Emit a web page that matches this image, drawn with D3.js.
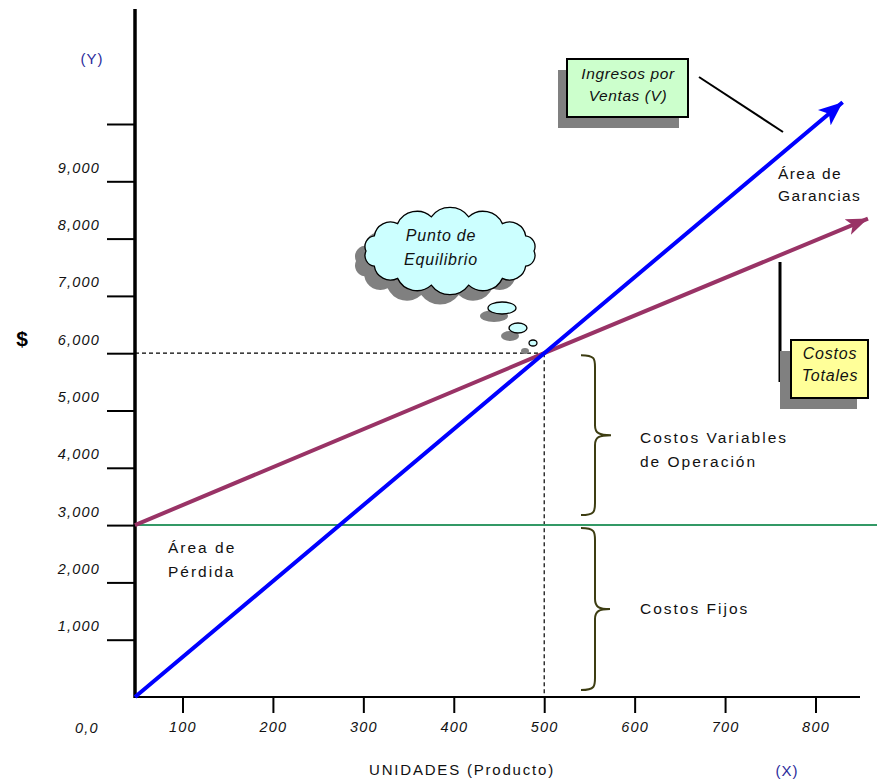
<!DOCTYPE html>
<html>
<head>
<meta charset="utf-8">
<script src="https://cdnjs.cloudflare.com/ajax/libs/d3/7.8.5/d3.min.js"></script>
<style>
  body { margin: 0; background: #fff; }
  text { font-family: "Liberation Sans", Arial, sans-serif; }
</style>
</head>
<body>
<div id="chart"></div>
<script>
// Punto de equilibrio - grafica de costos / ingresos

// Pt. 0 - DATA
const xTicks = [100, 200, 300, 400, 500, 600, 700, 800];
const yTicks = [1000, 2000, 3000, 4000, 5000, 6000, 7000, 8000, 9000, 10000];
const yTickLabels = ["1,000", "2,000", "3,000", "4,000", "5,000", "6,000", "7,000", "8,000", "9,000", ""];

// Ingresos por Ventas (V)
const ventasUnidades = [47.5, 500, 830];
const ventasValores = [0, 6000, 10380];
// Costos Totales
const totalesUnidades = [47.5, 500, 858];
const totalesValores = [3000, 6000, 8350];
// Costos Fijos
const fijosUnidades = [47.5, 868];
const fijosValores = [3000, 3000];
// Punto de equilibrio
const equilibrio = { unidades: 500, valor: 6000 };

// Pt. 1 - TYPE SETTING
const width = 877, height = 779;

let svg = d3.select("#chart")
    .append("svg")
    .attr("width", width)
    .attr("height", height);

let x = d3.scaleLinear()
    .domain([47.5, 868])
    .range([135, 877]);

let y = d3.scaleLinear()
    .domain([0, 10000])
    .range([697, 124]);

let defs = svg.append("defs");
function arrow(id, color, w, h) {
    defs.append("marker")
        .attr("id", id)
        .attr("viewBox", `0 0 ${w} ${h}`)
        .attr("refX", w)
        .attr("refY", h / 2)
        .attr("markerWidth", w)
        .attr("markerHeight", h)
        .attr("markerUnits", "userSpaceOnUse")
        .attr("orient", "auto")
        .append("path")
        .attr("d", `M0,0 L${w},${h / 2} L0,${h} L${w * 0.25},${h / 2} Z`)
        .attr("fill", color);
}
arrow("headBlue", "#0000ff", 24, 20);
arrow("headRed", "#993366", 22, 17);

// Pt. 2 - AXES
let xAxis = svg.append("g")
    .attr("transform", `translate(0, ${y(0)})`)
    .call(d3.axisBottom(x).tickValues(xTicks).tickSize(16).tickPadding(9));
xAxis.select(".domain").remove();
xAxis.selectAll("line").attr("stroke", "#000").attr("stroke-width", 2);
xAxis.selectAll("text")
    .attr("font-size", 14.5).attr("font-style", "italic")
    .attr("letter-spacing", 1.2).attr("fill", "#111");

let yAxis = svg.append("g")
    .attr("transform", `translate(${x(47.5)}, 0)`)
    .call(d3.axisLeft(y).tickValues(yTicks).tickSize(28).tickPadding(7)
        .tickFormat((d, i) => yTickLabels[i]));
yAxis.select(".domain").remove();
yAxis.selectAll("line").attr("stroke", "#000").attr("stroke-width", 2);
yAxis.selectAll("text")
    .attr("dy", "-0.62em")
    .attr("font-size", 14.5).attr("font-style", "italic")
    .attr("letter-spacing", 1.2).attr("fill", "#111");

// axis lines
svg.append("line")
    .attr("x1", x(47.5)).attr("x2", 860)
    .attr("y1", y(0)).attr("y2", y(0))
    .attr("stroke", "#000").attr("stroke-width", 2);
svg.append("line")
    .attr("x1", x(47.5)).attr("x2", x(47.5))
    .attr("y1", 9).attr("y2", y(0) + 1)
    .attr("stroke", "#000").attr("stroke-width", 3.5);

// axis texts
svg.append("text").text("0,0")
    .attr("x", 87).attr("y", 733).attr("text-anchor", "middle")
    .attr("font-size", 14.5).attr("font-style", "italic").attr("letter-spacing", 1.2).attr("fill", "#111");
svg.append("text").text("(Y)")
    .attr("x", 92).attr("y", 64).attr("text-anchor", "middle")
    .attr("font-size", 15).attr("letter-spacing", 1).attr("fill", "#2b2b9b");
svg.append("text").text("(X)")
    .attr("x", 787).attr("y", 776).attr("text-anchor", "middle")
    .attr("font-size", 15).attr("letter-spacing", 1).attr("fill", "#2b2b9b");
svg.append("text").text("$")
    .attr("x", 22).attr("y", 346).attr("text-anchor", "middle")
    .attr("font-size", 21).attr("font-weight", "bold");
svg.append("text").text("UNIDADES (Producto)")
    .attr("x", 462).attr("y", 775).attr("text-anchor", "middle")
    .attr("font-size", 15).attr("letter-spacing", 1.8).attr("fill", "#111");

// Pt. 3 - GUIDE LINES (punto de equilibrio)
svg.append("line")
    .attr("x1", x(47.5)).attr("x2", x(equilibrio.unidades))
    .attr("y1", y(equilibrio.valor)).attr("y2", y(equilibrio.valor))
    .attr("stroke", "#000").attr("stroke-width", 1.2).attr("stroke-dasharray", "4,3");
svg.append("line")
    .attr("x1", x(equilibrio.unidades)).attr("x2", x(equilibrio.unidades))
    .attr("y1", y(equilibrio.valor)).attr("y2", y(0))
    .attr("stroke", "#000").attr("stroke-width", 1.2).attr("stroke-dasharray", "4,3");

// Pt. 4 - LINES
let line = d3.line().x(d => x(d[0])).y(d => y(d[1]));

svg.append("path")
    .datum(d3.zip(fijosUnidades, fijosValores))
    .attr("d", line)
    .attr("fill", "none").attr("stroke", "#339966").attr("stroke-width", 2);

svg.append("path")
    .datum(d3.zip(totalesUnidades, totalesValores))
    .attr("d", line)
    .attr("fill", "none").attr("stroke", "#993366").attr("stroke-width", 4)
    .attr("marker-end", "url(#headRed)");

svg.append("path")
    .datum(d3.zip(ventasUnidades, ventasValores))
    .attr("d", line)
    .attr("fill", "none").attr("stroke", "#0000ff").attr("stroke-width", 4)
    .attr("marker-end", "url(#headBlue)");

// Pt. 5 - BRACES
function brace(top, bottom, xl, xm, xt) {
    let mid = (top + bottom) / 2;
    return `M${xl},${top} C${xm},${top} ${xm},${top + 4} ${xm},${top + 12}
            L${xm},${mid - 10} C${xm},${mid - 2} ${xm + 4},${mid} ${xt},${mid}
            C${xm + 4},${mid} ${xm},${mid + 2} ${xm},${mid + 10}
            L${xm},${bottom - 12} C${xm},${bottom - 4} ${xm},${bottom} ${xl},${bottom}`;
}
svg.append("path")
    .attr("d", brace(y(6000) + 2, y(3000) - 10, 581, 595, 611))
    .attr("fill", "none").attr("stroke", "#3d3d12").attr("stroke-width", 2);
svg.append("path")
    .attr("d", brace(y(3000) + 3, y(0) - 7, 581, 595, 610))
    .attr("fill", "none").attr("stroke", "#3d3d12").attr("stroke-width", 2);

// Pt. 6 - LABELS
function label(lines, x0, y0, opts = {}) {
    let t = svg.append("text")
        .attr("font-size", opts.size || 15.5)
        .attr("letter-spacing", opts.spacing == null ? 2 : opts.spacing)
        .attr("font-style", opts.italic ? "italic" : "normal")
        .attr("text-anchor", opts.anchor || "start")
        .attr("fill", "#111");
    lines.forEach((s, i) => {
        t.append("tspan").attr("x", x0).attr("y", y0 + i * (opts.lh || 24)).text(s);
    });
}
label(["Costos Variables", "de Operación"], 640, 443);
label(["Costos Fijos"], 640, 614);
label(["Área de", "Pérdida"], 168, 553);
label(["Área de", "Garancias"], 778, 179, { lh: 22, spacing: 1.4 });

// callout boxes
function box(x0, y0, w, h, fill, dx, dy) {
    svg.append("rect").attr("x", x0 + dx).attr("y", y0 + dy).attr("width", w).attr("height", h).attr("fill", "#808080");
    svg.append("rect").attr("x", x0).attr("y", y0).attr("width", w).attr("height", h)
        .attr("fill", fill).attr("stroke", "#000").attr("stroke-width", 2);
}
svg.append("line").attr("x1", 699).attr("y1", 77).attr("x2", 783).attr("y2", 132)
    .attr("stroke", "#000").attr("stroke-width", 2);
box(567, 59, 121, 58, "#ccffcc", -9, 11);
label(["Ingresos por", "Ventas (V)"], 628, 79, { italic: true, anchor: "middle", spacing: 0.6, lh: 22, size: 15.5 });

svg.append("line").attr("x1", 780).attr("y1", 262).attr("x2", 780).attr("y2", 382)
    .attr("stroke", "#000").attr("stroke-width", 3);
box(791, 340, 77, 58, "#ffff99", -11, 11);
label(["Costos", "Totales"], 830, 359, { italic: true, anchor: "middle", spacing: 0.8, lh: 22, size: 16 });

// thought cloud
function cloud(cx, cy, rx, ry, n) {
    let pts = d3.range(n).map(i => {
        let a = -Math.PI + i * 2 * Math.PI / n;
        return [cx + rx * Math.cos(a), cy + ry * Math.sin(a)];
    });
    let d = `M${pts[0][0]},${pts[0][1]}`;
    pts.forEach((p, i) => {
        let q = pts[(i + 1) % n];
        let r = Math.hypot(q[0] - p[0], q[1] - p[1]) * 0.62;
        d += ` A${r},${r} 0 0 1 ${q[0]},${q[1]}`;
    });
    return d + "Z";
}
let cloudPath = cloud(450, 251, 84, 35, 14);
svg.append("path").attr("d", cloudPath).attr("transform", "translate(-10,10)").attr("fill", "#808080");
svg.append("path").attr("d", cloudPath).attr("fill", "#ccffff").attr("stroke", "#000").attr("stroke-width", 1.3);

const bubbles = [[502, 308, 14, 6], [518, 328, 9, 5], [533, 343, 4, 3]];
svg.selectAll(".bshadow").data(bubbles).join("ellipse")
    .attr("cx", d => d[0] - 8).attr("cy", d => d[1] + 8).attr("rx", d => d[2]).attr("ry", d => d[3])
    .attr("fill", "#808080");
svg.selectAll(".bubble").data(bubbles).join("ellipse")
    .attr("cx", d => d[0]).attr("cy", d => d[1]).attr("rx", d => d[2]).attr("ry", d => d[3])
    .attr("fill", "#ccffff").attr("stroke", "#000").attr("stroke-width", 1.3);
label(["Punto de", "Equilibrio"], 441, 241, { italic: true, anchor: "middle", spacing: 0.8, lh: 24, size: 16 });
</script>
</body>
</html>
